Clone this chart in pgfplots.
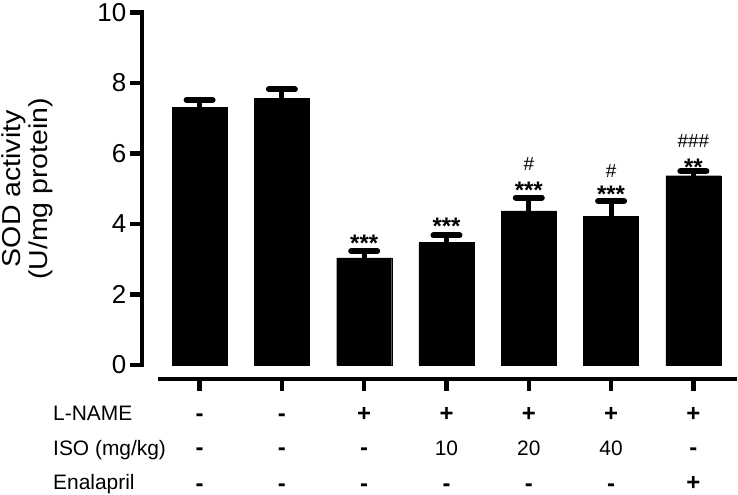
\documentclass[border=0pt]{standalone}
\usepackage{pgfplots}
\pgfplotsset{compat=1.18}
\usepackage{pgfplotstable}
\usepackage{fontspec}
\setmainfont{Liberation Sans}
\newfontfamily\labelfont[FakeStretch=1.1]{Liberation Sans}

\pgfplotstableread{
x y err
0 7.30 0.22
1 7.57 0.25
2 3.04 0.19
3 3.47 0.21
4 4.37 0.38
5 4.22 0.43
6 5.37 0.13
}\sod

\newcommand\cell[3]{\node[anchor=base, font=\fontsize{21}{21}\selectfont, inner sep=0pt] at ([yshift=#2]axis cs:#1,0) {#3};}
\newcommand\sign[3]{\node[anchor=base, font=\bfseries\fontsize{24}{24}\selectfont, inner sep=0pt] at ([yshift=#2]axis cs:#1,0) {#3};}
\newcommand\sigstar[3]{\node[anchor=base, font=\bfseries\fontsize{24}{24}\selectfont, inner sep=0pt] at ([yshift=#2]axis cs:#1) {#3};}
\newcommand\sighash[3]{\node[anchor=base, font=\fontsize{19}{19}\selectfont, inner sep=0pt] at ([yshift=#2]axis cs:#1) {#3};}

\begin{document}
\begin{tikzpicture}
\begin{axis}[
  scale only axis,
  width=595bp, height=352.5bp,
  xmin=-0.70, xmax=6.53, ymin=0, ymax=10,
  enlargelimits=false,
  axis x line=none,
  axis y line=left,
  y axis line style={-, line width=4.5bp, line cap=rect, black},
  ytick={0,2,...,10},
  ytick style={line width=4.5bp, black},
  major tick length=12bp,
  tick align=outside,
  yticklabel style={font=\fontsize{26}{26}\selectfont, inner sep=3.5bp, /pgf/number format/assume math mode=true},
  ylabel={SOD activity\\(U/mg protein)},
  ylabel style={at={(rel axis cs:-0.1933,0.5)}, anchor=center, align=center, inner sep=0pt, font=\labelfont\fontsize{26}{27}\selectfont},
  clip=false,
]
\addplot[ybar, bar width=55bp, fill=black, draw=black, line width=0.4bp,
  error bars/.cd, y dir=plus, y explicit,
  error bar style={line width=5bp, black},
  error mark options={rotate=90, mark size=13bp, line width=6bp, line cap=round, black}]
  table[x=x, y=y, y error=err] {\sod};

% offset x axis line and ticks
\draw[line width=4.5bp, black] ([yshift=-14bp]axis cs:-0.5,0) -- ([yshift=-14bp]axis cs:6.53,0);
\pgfplotsinvokeforeach{0,...,6}{\draw[line width=4.5bp, black] ([yshift=-14bp]axis cs:#1,0) -- ([yshift=-26bp]axis cs:#1,0);}

% significance marks
\sigstar{2,3.23}{0bp}{***}
\sigstar{3,3.68}{1bp}{***}
\sigstar{4,4.75}{-0.5bp}{***}
\sigstar{5,4.65}{-1.5bp}{***}
\sigstar{6,5.50}{-4bp}{**}
\sighash{4,4.75}{27.5bp}{\#}
\sighash{5,4.65}{23.5bp}{\#}
\sighash{6,5.50}{23.5bp}{\#\#\#}

% treatment table
\sign{0}{-56bp}{-}\sign{1}{-56bp}{-}\sign{2}{-56bp}{+}\sign{3}{-56bp}{+}\sign{4}{-56bp}{+}\sign{5}{-56bp}{+}\sign{6}{-56bp}{+}
\sign{0}{-90bp}{-}\sign{1}{-90bp}{-}\sign{2}{-90bp}{-}\cell{3}{-90bp}{10}\cell{4}{-90bp}{20}\cell{5}{-90bp}{40}\sign{6}{-90bp}{-}
\sign{0}{-126bp}{-}\sign{1}{-126bp}{-}\sign{2}{-126bp}{-}\sign{3}{-126bp}{-}\sign{4}{-126bp}{-}\sign{5}{-126bp}{-}\sign{6}{-125bp}{+}

\node[anchor=base west, font=\fontsize{21}{21}\selectfont, inner sep=0pt] at ([xshift=-89bp, yshift=-55bp]axis cs:-0.70,0) {L-NAME};
\node[anchor=base west, font=\fontsize{21}{21}\selectfont, inner sep=0pt] at ([xshift=-89bp, yshift=-90bp]axis cs:-0.70,0) {ISO (mg/kg)};
\node[anchor=base west, font=\fontsize{21}{21}\selectfont, inner sep=0pt] at ([xshift=-89bp, yshift=-124bp]axis cs:-0.70,0) {Enalapril};

\coordinate (O) at (axis cs:-0.70,0);
\coordinate (T) at (axis cs:6.53,10);
\end{axis}
\pgfresetboundingbox
\path[use as bounding box] ([xshift=-142bp, yshift=-130bp]O) rectangle ([xshift=1bp, yshift=12.5bp]T);
\end{tikzpicture}
\end{document}
